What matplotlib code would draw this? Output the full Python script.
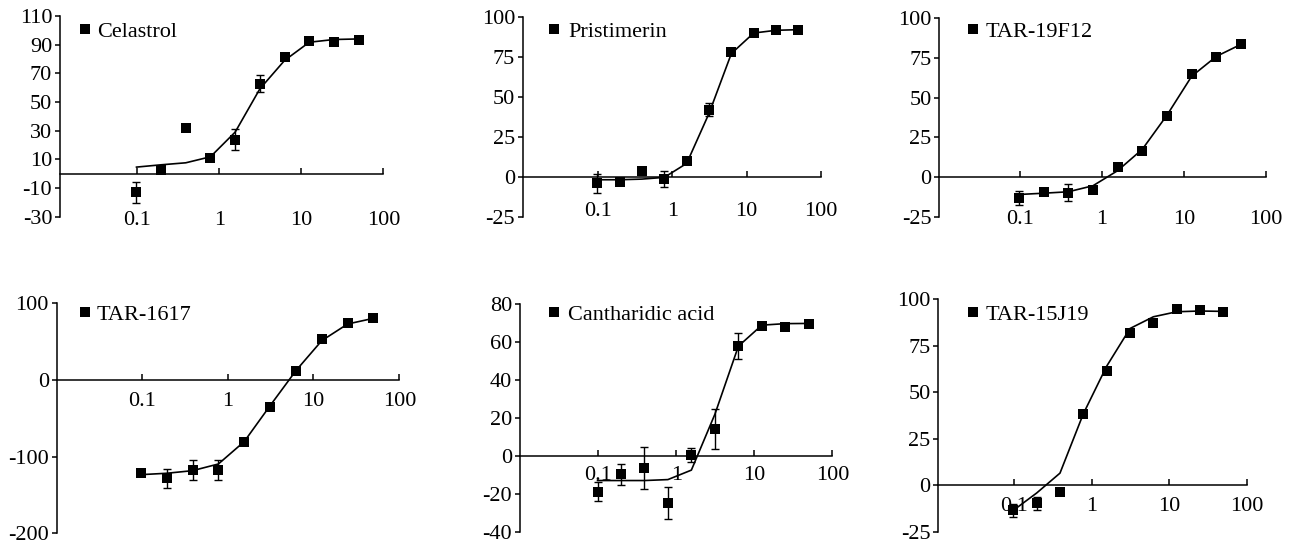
import matplotlib
matplotlib.use("Agg")
import matplotlib.pyplot as plt
from matplotlib.ticker import FixedLocator, NullLocator

plt.rcParams['font.family'] = ['Liberation Serif', 'DejaVu Serif']
plt.rcParams['axes.unicode_minus'] = False

# twofold dilution series (concentration, log axis)
conc = [0.0977, 0.195, 0.39, 0.78, 1.56, 3.125, 6.25, 12.5, 25, 50]
x_ticks = [0.1, 1, 10, 100]
x_labels = ['0.1', '1', '10', '100']

names = ['Celastrol', 'Pristimerin', 'TAR-19F12',
         'TAR-1617', 'Cantharidic acid', 'TAR-15J19']

celastrol_mean = [-12.8, 2.8, 32.0, 11.1, 23.7, 62.7, 81.3, 92.9, 91.8, 93.4]
celastrol_err = [7.3, 0, 0, 0, 7.5, 6.0, 0, 0, 0, 0]
celastrol_fit = [4.6, 6.2, 7.6, 11.8, 29.0, 59.2, 79.0, 91.7, 93.6, 94.0]

pristimerin_mean = [-4.2, -3.1, 3.3, -1.5, 9.6, 41.9, 77.7, 89.8, 91.7, 91.9]
pristimerin_err = [6.0, 2.0, 2.0, 5.0, 0, 4.0, 0, 0, 0, 0]
pristimerin_fit = [-1.9, -1.9, -1.5, -0.4, 8.3, 39.6, 77.0, 89.8, 91.5, 91.9]

tar19f12_mean = [-13.3, -9.5, -9.9, -8.4, 6.3, 16.2, 38.5, 64.6, 75.4, 83.6]
tar19f12_err = [4.5, 2.0, 5.3, 0, 0, 0, 0, 0, 0, 0]
tar19f12_fit = [-11.0, -10.2, -9.3, -5.5, 4.0, 17.5, 39.0, 63.5, 76.0, 83.6]

tar1617_mean = [-121.3, -128.3, -117.0, -117.4, -81.3, -34.8, 11.3, 53.5, 74.3, 80.9]
tar1617_err = [0, 12, 13, 13, 0, 0, 0, 0, 0, 0]
tar1617_fit = [-123.5, -121.7, -118.3, -109.6, -80.4, -33.5, 12.2, 51.3, 73.0, 80.4]

cantharidic_mean = [-18.9, -9.7, -6.5, -24.8, 0.4, 14.2, 58.0, 68.5, 67.8, 69.6]
cantharidic_err = [5.0, 5.5, 11.0, 8.4, 3.8, 10.8, 7.0, 0, 0, 0]
cantharidic_fit = [-13.0, -13.0, -13.0, -12.5, -7.5, 22.0, 57.9, 69.0, 69.8, 69.9]

tar15j19_mean = [-13.5, -9.7, -3.4, 38.4, 61.3, 82.0, 87.4, 94.6, 94.2, 93.0]
tar15j19_err = [3.5, 3.4, 0, 0, 0, 0, 0, 0, 0, 0]
tar15j19_fit = [-13.5, -4.2, 6.5, 38.4, 64.0, 84.3, 90.6, 93.3, 93.7, 93.5]

means = [celastrol_mean, pristimerin_mean, tar19f12_mean,
         tar1617_mean, cantharidic_mean, tar15j19_mean]
errs = [celastrol_err, pristimerin_err, tar19f12_err,
        tar1617_err, cantharidic_err, tar15j19_err]
fits = [celastrol_fit, pristimerin_fit, tar19f12_fit,
        tar1617_fit, cantharidic_fit, tar15j19_fit]

y_ticks = [[-30, -10, 10, 30, 50, 70, 90, 110],
           [-25, 0, 25, 50, 75, 100],
           [-25, 0, 25, 50, 75, 100],
           [-200, -100, 0, 100],
           [-40, -20, 0, 20, 40, 60, 80],
           [-25, 0, 25, 50, 75, 100]]

W, H = 1294, 546
# axes boxes in pixels: left, top, right, bottom
boxes = [(60, 16, 383.3, 216.7),
         (523, 16.7, 820.7, 216.7),
         (939.3, 18.3, 1265.7, 216.7),
         (56.7, 303.3, 399.3, 533.3),
         (520, 304.3, 832.3, 531.7),
         (938.3, 299.3, 1246.7, 531.7)]
x_left = [0.0114, 0.0097, 0.0104, 0.0102, 0.0099, 0.0105]
x_pads = [27, 18.5, 23.5, 9, 7, 8.5]
# legend: marker centre x, y and text start x (pixels)
legend_pos = [(85, 29.3, 96.7), (554, 30, 568.3), (973.3, 29.3, 986),
              (85, 312.7, 96.7), (554, 312.3, 568.3), (973.3, 312.3, 986)]

FS = 16
fig = plt.figure(figsize=(W / 100, H / 100), dpi=100)

for i in range(6):
    l, t, r, b = boxes[i]
    ax = fig.add_axes([l / W, 1 - b / H, (r - l) / W, (b - t) / H])
    ax.set_xscale('log')
    ax.set_xlim(x_left[i], 100)
    ax.set_ylim(y_ticks[i][0], y_ticks[i][-1])

    ax.plot(conc, fits[i], color='black', lw=1.2, zorder=2)
    ax.errorbar(conc, means[i], yerr=errs[i], fmt='none', ecolor='black',
                elinewidth=1.0, capsize=2.8, capthick=1.0, zorder=3)
    pts, = ax.plot(conc, means[i], 's', color='black', ms=7.8, mew=0,
                   zorder=4, label=names[i])

    for s in ['top', 'right']:
        ax.spines[s].set_visible(False)
    ax.spines['bottom'].set_position(('data', 0))
    ax.spines['left'].set_linewidth(1.1)
    ax.spines['bottom'].set_linewidth(1.1)

    ax.xaxis.set_major_locator(FixedLocator(x_ticks))
    ax.xaxis.set_minor_locator(NullLocator())
    ax.set_xticklabels(x_labels)
    ax.set_yticks(y_ticks[i])
    ax.set_yticklabels([str(v) for v in y_ticks[i]])
    ax.tick_params(axis='x', direction='in', length=4.5, width=1.1,
                   pad=x_pads[i], labelsize=FS)
    ax.tick_params(axis='y', direction='out', length=3.6, width=1.1,
                   pad=2, labelsize=FS)

    mx, my, tx = legend_pos[i]
    hl = 0.6
    half = hl * FS * 100 / 72 / 2
    tpad = (tx - (mx + half)) / (FS * 100 / 72)
    ax.legend(handles=[pts], loc='center left',
              bbox_to_anchor=((mx - half) / W, 1 - (my + 2) / H),
              bbox_transform=fig.transFigure, frameon=False, borderpad=0,
              borderaxespad=0, handlelength=hl, handletextpad=tpad,
              numpoints=1, fontsize=FS)

fig.savefig('out.png', dpi=100)
